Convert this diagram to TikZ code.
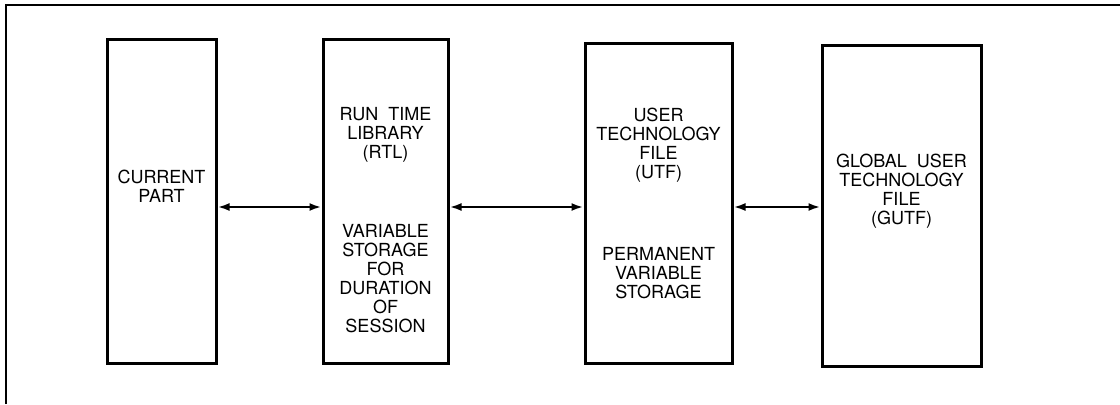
\documentclass[tikz,border=0pt]{standalone}
\usepackage{fontspec}
\setmainfont{TeX Gyre Heros}
\usetikzlibrary{arrows.meta}

\tikzset{
  blocco/.style={draw, line width=1.5pt, inner sep=0pt},
  scritta/.style={align=center, font=\fontsize{9}{9.5}\selectfont, inner sep=0pt},
  freccia/.style={{Latex[length=6pt,width=4pt]}-{Latex[length=6pt,width=4pt]}, line width=1.3pt}
}

\begin{document}
\begin{tikzpicture}[x=0.5pt,y=0.5pt]
        \useasboundingbox (0,0) rectangle (1120,404);

        % Disegna la cornice
        \draw[line width=0.75pt] (6,0) -- (6,399) -- (1120,399);

        % Disegna i blocchi
        \node[blocco, minimum width=54.5pt, minimum height=162pt] (cur) at (161.5,203) {};
        \node[blocco, minimum width=62.5pt, minimum height=162pt] (rtl) at (385.5,203) {};
        \node[blocco, minimum width=73.5pt, minimum height=160pt] (utf) at (658.5,201) {};
        \node[blocco, minimum width=79.5pt, minimum height=160.5pt] (gutf) at (901.5,198.5) {};

        % Scritte nei blocchi
        \node[scritta] (curtxt) at (161.5,218) {CURRENT\\PART};
        \node[scritta] (rtltxt) at (385.5,269) {RUN\ \ TIME\\LIBRARY\\(RTL)};
        \node[scritta] (rtlvar) at (385.5,125) {VARIABLE\\STORAGE\\FOR\\DURATION\\OF\\SESSION};
        \node[scritta] (utftxt) at (658.5,259) {USER\\TECHNOLOGY\\FILE\\(UTF)};
        \node[scritta] (utfvar) at (658.5,131) {PERMANENT\\VARIABLE\\STORAGE};
        \node[scritta] (gutftxt) at (901.5,213) {GLOBAL\ \ USER\\TECHNOLOGY\\FILE\\(GUTF)};

        % Frecce tra i blocchi
        \draw[freccia] ([yshift=-3pt]cur.east) -- ([yshift=-3pt]cur.east -| rtl.west);
        \draw[freccia] ([yshift=-3pt]rtl.east) -- ([yshift=-3pt]rtl.east -| utf.west);
        \draw[freccia] ([yshift=-2pt]utf.east) -- ([yshift=-2pt]utf.east -| gutf.west);
    \end{tikzpicture}
\end{document}
